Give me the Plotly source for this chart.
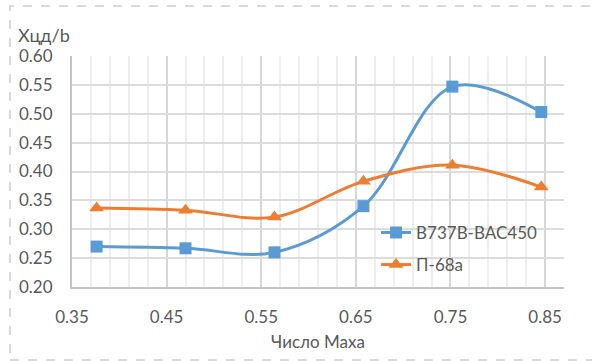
import plotly.graph_objects as go

# Mach numbers and relative centre-of-pressure position for two airfoils
mach = [0.376, 0.470, 0.564, 0.658, 0.752, 0.846]
b737_bac450 = [0.270, 0.267, 0.260, 0.340, 0.547, 0.503]
p_68a = [0.337, 0.333, 0.321, 0.383, 0.411, 0.373]

series_names = ["B737B-BAC450", "П-68а"]
x_title = "Число Маха"
y_title = "Хцд/b"

FONT = "Lato"
TXT = "#595959"

fig = go.Figure()
fig.add_trace(go.Scatter(
    x=mach, y=b737_bac450, name=series_names[0], mode="lines+markers",
    line=dict(color="#5B9BD5", width=3, shape="spline", smoothing=1),
    marker=dict(symbol="square", size=12, color="#5B9BD5"),
    legendgroup="a",
))
fig.add_trace(go.Scatter(
    x=mach, y=p_68a, name=series_names[1], mode="lines+markers",
    line=dict(color="#ED7D31", width=3, shape="spline", smoothing=1),
    marker=dict(symbol="triangle-up", size=13, color="#ED7D31"),
    legendgroup="b",
))

fig.update_layout(
    width=592, height=361,
    margin=dict(l=72, r=28, t=56, b=74),
    paper_bgcolor="white", plot_bgcolor="white",
    font=dict(family=FONT, size=17, color=TXT),
    legend=dict(
        x=0.618, y=0.312, xanchor="left", yanchor="top",
        bgcolor="rgba(0,0,0,0)", font=dict(size=17, color=TXT),
        tracegroupgap=7,
    ),
    xaxis=dict(
        range=[0.35, 0.87], tick0=0.35, dtick=0.1, tickformat=".2f",
        showgrid=True, gridcolor="#d6d6d6", gridwidth=1.5,
        minor=dict(dtick=0.02, tick0=0.35, showgrid=True, gridcolor="#eeeeee", gridwidth=1.5),
        showline=True, linecolor="#c4c4c4", linewidth=2,
        ticks="", ticklabelstandoff=14, zeroline=False,
        title=dict(text=x_title, font=dict(size=17, color=TXT), standoff=10),
    ),
    yaxis=dict(
        range=[0.2, 0.6], dtick=0.05, tickformat=".2f",
        showgrid=True, gridcolor="#dcdcdc", gridwidth=1.5,
        showline=True, linecolor="#c4c4c4", linewidth=2,
        ticks="", ticklabelstandoff=14, zeroline=False,
    ),
    annotations=[dict(
        text=y_title, xref="paper", yref="paper",
        x=(16 - 72) / 492, y=(287 - 35) / 231,
        xanchor="left", yanchor="middle", showarrow=False,
        font=dict(size=18, color=TXT),
    )],
    shapes=[dict(
        type="rect", xref="paper", yref="paper",
        x0=(10 - 72) / 492, x1=(600 - 72) / 492,
        y0=(287 - 360) / 231, y1=(287 - 6) / 231,
        line=dict(color="#d9d9d9", width=2, dash="dash"), layer="below",
    )],
)

fig.write_html("out.html")
